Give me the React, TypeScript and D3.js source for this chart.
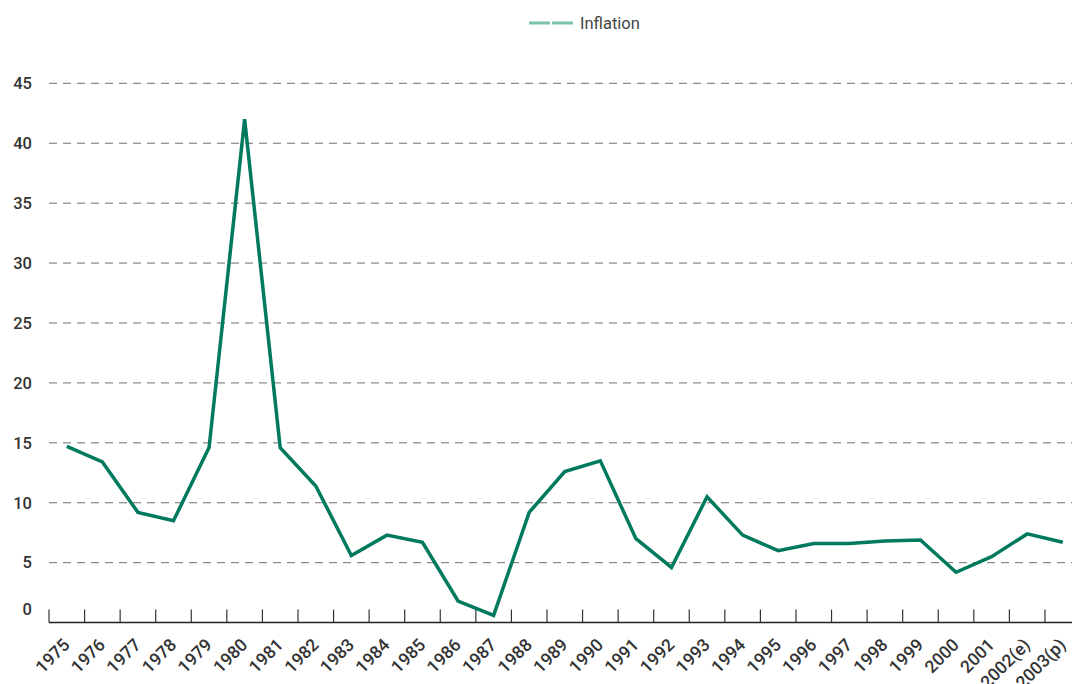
import React from 'react';
import { scaleBand, scaleLinear, line } from 'd3';

const years = [
  '1975', '1976', '1977', '1978', '1979', '1980', '1981', '1982', '1983', '1984',
  '1985', '1986', '1987', '1988', '1989', '1990', '1991', '1992', '1993', '1994',
  '1995', '1996', '1997', '1998', '1999', '2000', '2001', '2002(e)', '2003(p)'
];
const inflation = [
  14.7, 13.4, 9.2, 8.5, 14.6, 42.0, 14.6, 11.4, 5.6, 7.3,
  6.7, 1.8, 0.6, 9.2, 12.6, 13.5, 7.0, 4.6, 10.5, 7.3,
  6.0, 6.6, 6.6, 6.8, 6.9, 4.2, 5.5, 7.4, 6.7
];
const yTicks = [5, 10, 15, 20, 25, 30, 35, 40, 45];
const seriesName = 'Inflation';

const W = 1072;
const H = 684;
const left = 49;
const step = 35.57;
const font = 'Roboto, "Noto Sans", sans-serif';

export default function App() {
  const x = scaleBand<string>()
    .domain(years)
    .range([left, left + step * years.length])
    .padding(0);
  const y = scaleLinear().domain([0, 45]).range([622.6, 83.3]);

  const path = line<number>()
    .x((_, i) => (x(years[i]) as number) + x.bandwidth() / 2)
    .y(d => y(d))(inflation);

  const baseY = y(0);

  return (
    <svg
      width={W}
      height={H}
      style={{ position: 'absolute', left: 0, top: 0, background: '#fff' }}
      fontFamily={font}
    >
      {/* legend */}
      <g>
        <line x1={529} x2={550} y1={23} y2={23} stroke="#7cc1ad" strokeWidth={3} />
        <line x1={552} x2={573} y1={23} y2={23} stroke="#7cc1ad" strokeWidth={3} />
        <text x={580} y={23} dy="0.35em" fontSize={16.5} fill="#444">{seriesName}</text>
      </g>

      {/* grid + y labels */}
      {yTicks.map(t => (
        <g key={t}>
          <line
            x1={left}
            x2={W}
            y1={y(t)}
            y2={y(t)}
            stroke="#6e6e6e"
            strokeWidth={1}
            strokeDasharray="8,6"
          />
          <text
            x={32}
            y={y(t)}
            dy="0.35em"
            textAnchor="end"
            fontSize={16.5}
            fontWeight={500}
            fill="#333"
          >
            {t}
          </text>
        </g>
      ))}
      <text x={32} y={baseY - 13} dy="0.35em" textAnchor="end" fontSize={16.5} fontWeight={500} fill="#333">
        0
      </text>

      {/* x axis */}
      <line x1={left} x2={W} y1={baseY} y2={baseY} stroke="#222" strokeWidth={1.5} />
      {years.map(yr => (
        <line
          key={'t' + yr}
          x1={x(yr) as number}
          x2={x(yr) as number}
          y1={baseY - 13}
          y2={baseY}
          stroke="#333"
          strokeWidth={1.2}
        />
      ))}
      {years.map(yr => {
        const cx = (x(yr) as number) + x.bandwidth() / 2 + 4;
        const cy = 646;
        return (
          <text
            key={'l' + yr}
            x={cx}
            y={cy}
            textAnchor="end"
            fontSize={17.5}
            fontWeight={500}
            fill="#333"
            transform={`rotate(-45 ${cx} ${cy})`}
          >
            {yr}
          </text>
        );
      })}

      {/* series */}
      <path d={path || ''} fill="none" stroke="#007a5e" strokeWidth={3.5} strokeLinejoin="miter" />
    </svg>
  );
}
